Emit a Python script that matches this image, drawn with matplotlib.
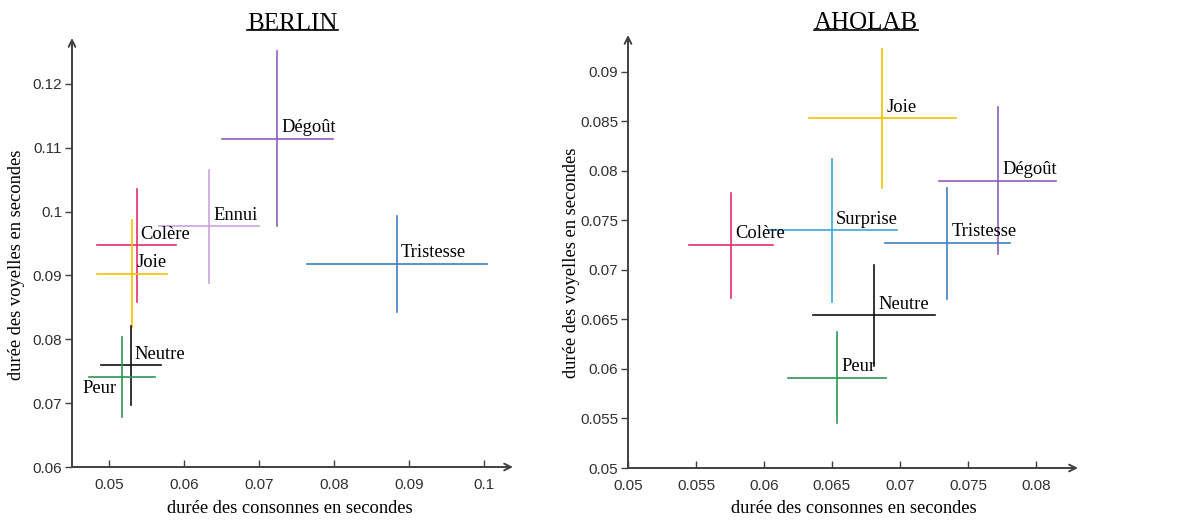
import numpy as np
import matplotlib
matplotlib.use("Agg")
import matplotlib.pyplot as plt

# BERLIN: mean durations (consonnes, voyelles) and spread
berlin_names = ["Dégoût", "Ennui", "Colère", "Joie", "Tristesse", "Neutre", "Peur"]
berlin_cx = [0.0725, 0.0634, 0.0537, 0.0531, 0.0884, 0.0529, 0.0518]
berlin_cy = [0.1114, 0.0977, 0.0947, 0.0903, 0.0918, 0.0759, 0.0741]
berlin_sx = [0.0074, 0.0067, 0.0053, 0.0047, 0.0120, 0.0040, 0.0044]
berlin_sy = [0.0137, 0.0089, 0.0088, 0.0084, 0.0075, 0.0062, 0.0062]

# AHOLAB
aholab_names = ["Joie", "Dégoût", "Surprise", "Tristesse", "Colère", "Neutre", "Peur"]
aholab_cx = [0.0687, 0.0772, 0.0650, 0.0735, 0.0576, 0.0681, 0.0654]
aholab_cy = [0.0853, 0.0790, 0.0740, 0.0727, 0.0725, 0.0654, 0.0591]
aholab_sx = [0.0054, 0.0043, 0.0048, 0.0046, 0.0031, 0.0045, 0.0036]
aholab_sy = [0.0070, 0.0074, 0.0072, 0.0056, 0.0053, 0.0051, 0.0046]

colors = {
    "Dégoût": "#8c5fb8",
    "Ennui": "#c9a3dc",
    "Colère": "#e2306a",
    "Joie": "#f2c200",
    "Tristesse": "#3f7fc2",
    "Neutre": "#101010",
    "Peur": "#2e9650",
    "Surprise": "#3aa6d8",
}

serif = "Liberation Serif"
sans = "Liberation Sans"
axis_col = "#404040"

fig = plt.figure(figsize=(11.79, 5.21), dpi=100)


def draw_panel(ax, names, cx, cy, sx, sy, title, xlim, ylim, xticks, yticks,
               left_labels=(), title_x=0.5, title_pad=6):
    for n, x, y, dx, dy in zip(names, cx, cy, sx, sy):
        c = colors[n]
        ax.plot([x - dx, x + dx], [y, y], color=c, lw=1.2)
        ax.plot([x, x], [y - dy, y + dy], color=c, lw=1.2)
        if n in left_labels:
            ax.annotate(n, (x, y), xytext=(-4, -8), textcoords="offset points",
                        ha="right", va="center", fontsize=13.3, family=serif)
        else:
            ax.annotate(n, (x, y), xytext=(3, 8), textcoords="offset points",
                        ha="left", va="center", fontsize=13.3, family=serif)
    ax.set_xlim(*xlim)
    ax.set_ylim(*ylim)
    for s in ax.spines.values():
        s.set_visible(False)
    ax.annotate("", xy=(1, 0), xytext=(0, 0), xycoords="axes fraction",
                arrowprops=dict(arrowstyle="->", color=axis_col, lw=1.4,
                                shrinkA=0, shrinkB=0, mutation_scale=12))
    ax.annotate("", xy=(0, 1), xytext=(0, 0), xycoords="axes fraction",
                arrowprops=dict(arrowstyle="->", color=axis_col, lw=1.4,
                                shrinkA=0, shrinkB=0, mutation_scale=12))
    ax.set_xticks(xticks)
    ax.set_yticks(yticks)
    ax.set_xticklabels([f"{t:g}" for t in xticks])
    ax.set_yticklabels([f"{t:g}" for t in yticks])
    ax.tick_params(axis="x", direction="in", length=5, color=axis_col, width=1,
                   labelsize=11, pad=8)
    ax.tick_params(axis="y", direction="out", length=5, color=axis_col, width=1,
                   labelsize=11, pad=2)
    for lab in ax.get_xticklabels() + ax.get_yticklabels():
        lab.set_family(sans)
        lab.set_color("#303030")
    ax.set_xlabel("durée des consonnes en secondes", family=serif, fontsize=13.3)
    ax.set_ylabel("durée des voyelles en secondes", family=serif, fontsize=13.3)
    ax.set_title(title, family=serif, fontsize=18, pad=title_pad, x=title_x)


ax1 = fig.add_axes([72 / 1179, 54 / 521, 441 / 1179, 429 / 521])
draw_panel(ax1, berlin_names, berlin_cx, berlin_cy, berlin_sx, berlin_sy,
           "BERLIN", (0.0451, 0.1039), (0.06, 0.1272),
           [0.05, 0.06, 0.07, 0.08, 0.09, 0.1],
           [0.06, 0.07, 0.08, 0.09, 0.1, 0.11, 0.12],
           left_labels=("Peur",))
ax1.xaxis.set_label_coords(0.494, -0.078)
ax1.yaxis.set_label_coords(-0.107, 0.471)

ax2 = fig.add_axes([628 / 1179, 53 / 521, 450 / 1179, 433 / 521])
draw_panel(ax2, aholab_names, aholab_cx, aholab_cy, aholab_sx, aholab_sy,
           "AHOLAB", (0.05, 0.0831), (0.05, 0.0937),
           [0.05, 0.055, 0.06, 0.065, 0.07, 0.075, 0.08],
           [0.05, 0.055, 0.06, 0.065, 0.07, 0.075, 0.08, 0.085, 0.09],
           title_x=0.529, title_pad=4)
ax2.xaxis.set_label_coords(0.502, -0.075)
ax2.yaxis.set_label_coords(-0.106, 0.473)

# underline titles
fig.canvas.draw()
inv = fig.transFigure.inverted()
for ax in (ax1, ax2):
    bb = ax.title.get_window_extent()
    (x0, y0), (x1, _) = inv.transform([(bb.x0, bb.y0), (bb.x1, bb.y1)])
    fig.add_artist(plt.Line2D([x0, x1], [y0 + 0.008, y0 + 0.008],
                              transform=fig.transFigure, color="black", lw=1.2))

fig.savefig("out.png", dpi=100)
